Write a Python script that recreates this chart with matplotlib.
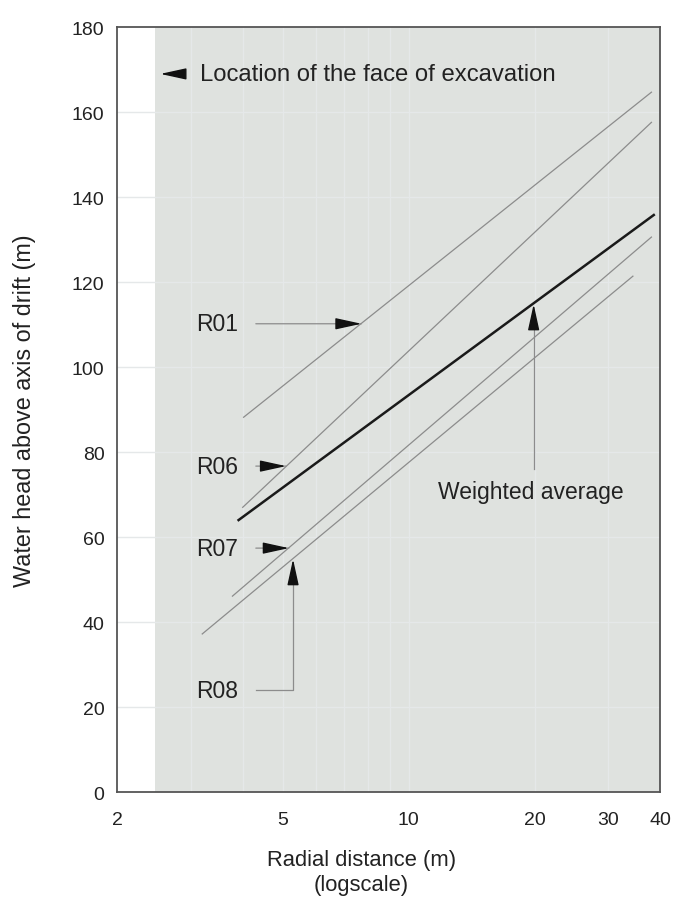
'''
water head vs radial distance around the drift
'''

import matplotlib
matplotlib.use('Agg')
import matplotlib.pyplot as plt

plt.rcParams['font.family'] = ['Liberation Sans', 'DejaVu Sans']

# straight fits on the semilog axes, given by their end points
r01_x = [4.02, 38.1]
r01_y = [88.2, 164.7]
r06_x = [4.0, 38.1]
r06_y = [67.0, 157.6]
avg_x = [3.91, 38.6]
avg_y = [64.0, 135.8]
r07_x = [3.78, 38.1]
r07_y = [46.1, 130.6]
r08_x = [3.2, 34.4]
r08_y = [37.2, 121.4]

# face of the excavation (m)
face_x = 2.47
face_y = 169

# where the labels point on each line
r01_tip = (7.7, 110.2)
r06_tip = (5.08, 76.7)
r07_tip = (5.16, 57.4)
r08_tip = (5.28, 54.8)
avg_tip = (19.9, 114.8)

x_ticks = [2, 5, 10, 20, 30, 40]
y_ticks = list(range(0, 181, 20))
grid_x = [3, 4, 5, 6, 7, 8, 9, 10, 20, 30]

fig = plt.figure(figsize=(6.74, 9.03), dpi=100)
ax = fig.add_axes([0.1736, 0.1218, 0.806, 0.847])
ax.set_xscale('log')
ax.set_xlim(2, 40)
ax.set_ylim(0, 180)

ax.axvspan(face_x, 40, color='#dfe2df', zorder=0, lw=0)
for gx in grid_x:
    ax.axvline(gx, color='#e5e8e9', lw=1.0, zorder=1)
for gy in y_ticks[1:-1]:
    ax.axhline(gy, color='#e5e8e9', lw=1.0, zorder=1)

for xs, ys in [(r01_x, r01_y), (r06_x, r06_y), (r07_x, r07_y), (r08_x, r08_y)]:
    ax.plot(xs, ys, color='#8c8c8c', lw=0.9, zorder=3)
ax.plot(avg_x, avg_y, color='#1a1a1a', lw=1.8, zorder=4)

head = dict(arrowstyle='-|>,head_length=1.6,head_width=0.35',
            color='#111111', mutation_scale=10, shrinkA=0, shrinkB=0)
conn = dict(arrowstyle='-', color='#8c8c8c', lw=0.9, shrinkA=0, shrinkB=0)

def head_at(tip, dx, dy):
    ax.annotate('', xy=tip, xytext=(dx, dy), textcoords='offset points',
                arrowprops=head, zorder=6)

fs = 16.5
lead = 4.3  # where the leader lines start, right of the labels

# face of excavation marker
ax.annotate('', xy=(2.54, face_y), xytext=(2.54 * 1.14, face_y),
            arrowprops=head, zorder=6)
ax.text(3.16, face_y, 'Location of the face of excavation', fontsize=17.2,
        va='center', ha='left', color='#222222')

# straight labels with a leader line to the right
for name, tip in [('R01', r01_tip), ('R06', r06_tip), ('R07', r07_tip)]:
    ax.text(3.1, tip[1], name, fontsize=fs, va='center', ha='left', color='#222222')
    ax.annotate('', xy=tip, xytext=(lead, tip[1]), arrowprops=conn, zorder=5)
    head_at(tip, -16, 0)

# R08 comes in from below with a bend
ax.text(3.1, 24, 'R08', fontsize=fs, va='center', ha='left', color='#222222')
ax.plot([lead, r08_tip[0], r08_tip[0]], [24, 24, r08_tip[1] - 3],
        color='#8c8c8c', lw=0.9, zorder=5)
head_at(r08_tip, 0, -16)

# weighted average
ax.text(19.6, 70.8, 'Weighted average', fontsize=fs, va='center', ha='center',
        color='#222222')
ax.plot([avg_tip[0], avg_tip[0]], [76, avg_tip[1] - 3], color='#8c8c8c',
        lw=0.9, zorder=5)
head_at(avg_tip, 0, -16)

ax.set_xticks(x_ticks)
ax.set_xticklabels([str(t) for t in x_ticks])
ax.xaxis.set_minor_locator(matplotlib.ticker.NullLocator())
ax.set_yticks(y_ticks)
ax.tick_params(axis='both', length=0, labelsize=14, colors='#222222')
ax.tick_params(axis='x', pad=14)
ax.tick_params(axis='y', pad=9)

for sp in ax.spines.values():
    sp.set_color('#555555')
    sp.set_linewidth(1.3)

ax.set_xlabel('Radial distance (m)\n(logscale)', fontsize=15.8, labelpad=14,
              color='#222222', linespacing=1.25)
ax.xaxis.set_label_coords(0.45, -0.074, transform=ax.transAxes)
ax.set_ylabel('Water head above axis of drift (m)', fontsize=16.8, labelpad=26,
              color='#222222')

plt.savefig('out.png', dpi=100)
